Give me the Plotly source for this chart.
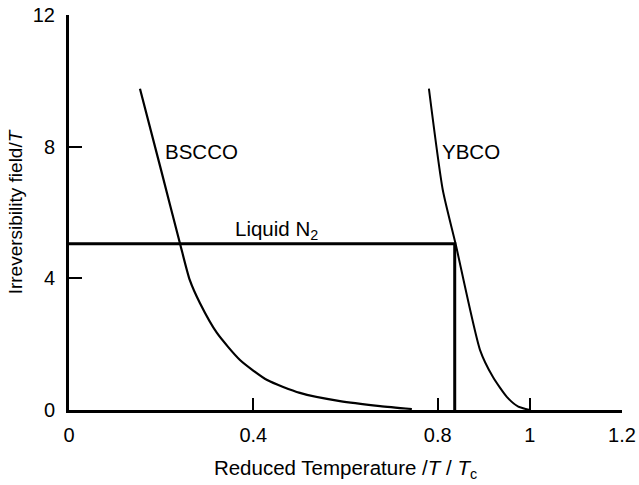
import plotly.graph_objects as go

# Data
bscco_x = [0.154, 0.200, 0.241, 0.262, 0.284, 0.321, 0.371, 0.430, 0.501, 0.588, 0.675, 0.744]
bscco_y = [9.76, 7.28, 5.05, 3.95, 3.25, 2.34, 1.52, 0.91, 0.52, 0.27, 0.12, 0.03]

ybco_x = [0.781, 0.811, 0.839, 0.892, 0.920, 0.950, 0.975, 1.0]
ybco_y = [9.76, 6.69, 5.04, 1.82, 1.00, 0.40, 0.10, 0.0]

n2_x = [0.0, 0.837, 0.837]
n2_y = [5.05, 5.05, 0.0]

x_tickvals = [0, 0.4, 0.8, 1, 1.2]
x_ticktext = ["0", "0.4", "0.8", "1", "1.2"]
y_tickvals = [0, 4, 8, 12]
y_ticktext = ["0", "4", "8", "12"]

FONT = "Arial, 'Liberation Sans', sans-serif"
FS = 20.5

fig = go.Figure()
fig.add_trace(go.Scatter(x=bscco_x, y=bscco_y, mode="lines",
                         line=dict(color="black", width=2.2, shape="spline", smoothing=0.6),
                         showlegend=False, hoverinfo="skip"))
fig.add_trace(go.Scatter(x=ybco_x, y=ybco_y, mode="lines",
                         line=dict(color="black", width=2, shape="spline", smoothing=0.6),
                         showlegend=False, hoverinfo="skip"))
fig.add_trace(go.Scatter(x=n2_x, y=n2_y, mode="lines",
                         line=dict(color="black", width=3),
                         showlegend=False, hoverinfo="skip"))

fig.add_annotation(x=0.204, y=7.84, text="BSCCO", showarrow=False,
                   xanchor="left", yanchor="middle", font=dict(size=FS, color="black", family=FONT))
fig.add_annotation(x=0.805, y=7.84, text="YBCO", showarrow=False,
                   xanchor="left", yanchor="middle", font=dict(size=FS, color="black", family=FONT))
fig.add_annotation(x=0.356, y=5.47, text="Liquid N<sub>2</sub>", showarrow=False,
                   xanchor="left", yanchor="middle", font=dict(size=FS, color="black", family=FONT))

fig.update_layout(
    width=639, height=485,
    margin=dict(l=69, r=17, t=15, b=75, autoexpand=False),
    paper_bgcolor="white", plot_bgcolor="white",
    font=dict(family=FONT, size=FS, color="black"),
    xaxis=dict(range=[0, 1.2], tickvals=x_tickvals, ticktext=x_ticktext,
               showgrid=False, zeroline=False, showline=True, linecolor="black", linewidth=3,
               ticks="inside", ticklen=12, tickwidth=2, tickcolor="black",
               ticklabelstandoff=5, automargin=False, tickfont=dict(size=20),
               title=dict(text="Reduced Temperature /<i>T</i> / <i>T</i><sub>c</sub>",
                          font=dict(size=FS), standoff=16)),
    yaxis=dict(range=[0, 12], tickvals=y_tickvals, ticktext=y_ticktext,
               showgrid=False, zeroline=False, showline=True, linecolor="black", linewidth=3,
               ticks="inside", ticklen=13, tickwidth=2, tickcolor="black",
               ticklabelstandoff=7, automargin=False, tickfont=dict(size=20),
               title=dict(text="Irreversibility field/<i>T</i>", font=dict(size=19), standoff=6)),
)

fig.write_html("out.html", config={"displayModeBar": False},
               post_script="document.body.style.margin='0';")
